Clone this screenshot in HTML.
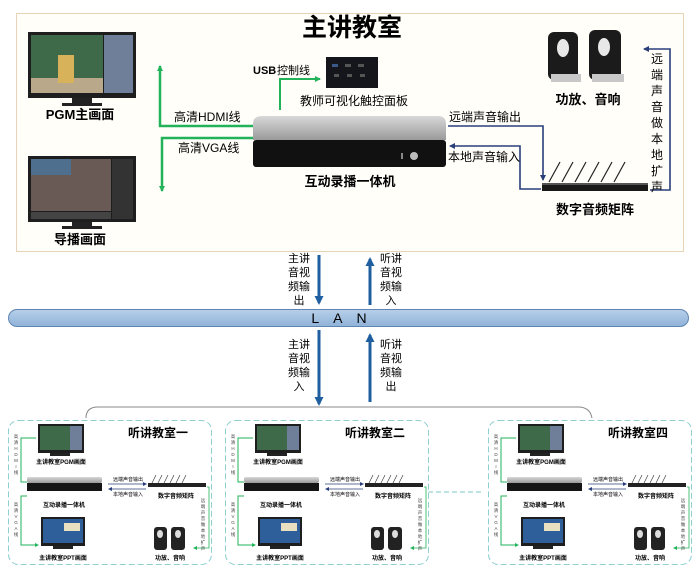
<!DOCTYPE html>
<html><head><meta charset="utf-8"><style>
html,body{margin:0;padding:0;background:#fff;}
svg{display:block;font-family:"Liberation Sans","Noto Sans CJK SC",sans-serif;}
.b{font-weight:bold;}
</style></head><body>
<svg width="700" height="574" viewBox="0 0 700 574" xmlns="http://www.w3.org/2000/svg">
<defs>
<marker id="ag" markerWidth="6" markerHeight="6" refX="5" refY="3" orient="auto" markerUnits="userSpaceOnUse"><path d="M0,0L6,3L0,6z" fill="#22b35a"/></marker>
<marker id="an" markerWidth="6" markerHeight="6" refX="5" refY="3" orient="auto" markerUnits="userSpaceOnUse"><path d="M0,0L6,3L0,6z" fill="#2a3f7a"/></marker>
<marker id="ab" markerWidth="9" markerHeight="9" refX="7" refY="4.5" orient="auto" markerUnits="userSpaceOnUse"><path d="M0,0L9,4.5L0,9z" fill="#1f5fa0"/></marker>
<marker id="as" markerWidth="4" markerHeight="4" refX="3" refY="2" orient="auto" markerUnits="userSpaceOnUse"><path d="M0,0L4,2L0,4z" fill="#22b35a"/></marker>
<marker id="asn" markerWidth="4" markerHeight="4" refX="3" refY="2" orient="auto" markerUnits="userSpaceOnUse"><path d="M0,0L4,2L0,4z" fill="#2a3f7a"/></marker>
<linearGradient id="sil" x1="0" y1="0" x2="0" y2="1"><stop offset="0" stop-color="#d8d8d8"/><stop offset="1" stop-color="#9a9a9a"/></linearGradient>
<linearGradient id="lan" x1="0" y1="0" x2="0" y2="1"><stop offset="0" stop-color="#b7d0ea"/><stop offset="1" stop-color="#8fb2d8"/></linearGradient>
<g id="vl1" font-size="4.5" fill="#333" text-anchor="middle">
</g>
</defs>

<!-- top box -->
<rect x="16.5" y="13.5" width="667" height="238" fill="#fffef9" stroke="#e6d3b8"/>
<text x="352" y="36" font-size="25" class="b" text-anchor="middle">主讲教室</text>

<!-- PGM monitor -->
<rect x="28" y="32" width="108" height="66" fill="#1e1e1e"/>
<rect x="31" y="35" width="72" height="58" fill="#3f6a4a"/>
<rect x="31" y="78" width="72" height="15" fill="#b9a88a"/>
<rect x="58" y="55" width="16" height="28" fill="#d8b25a"/>
<rect x="104" y="35" width="29" height="58" fill="#6f7f9a"/>
<rect x="72" y="98" width="20" height="5" fill="#222"/>
<rect x="62" y="103" width="40" height="3" fill="#222"/>
<text x="80" y="119" font-size="13" class="b" text-anchor="middle">PGM主画面</text>

<!-- director monitor -->
<rect x="28" y="156" width="108" height="66" fill="#1e1e1e"/>
<rect x="31" y="159" width="80" height="52" fill="#6a5a55"/>
<rect x="31" y="159" width="40" height="16" fill="#4e6f8e"/>
<rect x="112" y="159" width="21" height="60" fill="#333"/>
<rect x="31" y="212" width="80" height="7" fill="#444"/>
<rect x="72" y="222" width="20" height="4" fill="#222"/>
<rect x="62" y="226" width="40" height="3" fill="#222"/>
<text x="80" y="244" font-size="13" class="b" text-anchor="middle">导播画面</text>

<!-- green lines -->
<path d="M253,126 H160 V66" fill="none" stroke="#22b35a" stroke-width="2.5" marker-end="url(#ag)"/>
<path d="M253,138 H162 V191" fill="none" stroke="#22b35a" stroke-width="2.5" marker-end="url(#ag)"/>
<text x="174" y="121" font-size="12">高清HDMI线</text>
<text x="178" y="152" font-size="12">高清VGA线</text>
<path d="M280,110 V79 H320" fill="none" stroke="#22b35a" stroke-width="2" marker-end="url(#ag)"/>
<text x="253" y="74" font-size="11" class="b">USB</text><text x="277" y="74" font-size="11">控制线</text>

<!-- touch panel -->
<rect x="326" y="57" width="52" height="31" fill="#14161c"/>
<rect x="332" y="64" width="6" height="3" fill="#3a5a8a"/><rect x="345" y="64" width="6" height="3" fill="#555"/><rect x="358" y="64" width="6" height="3" fill="#555"/>
<rect x="334" y="74" width="5" height="3" fill="#555"/><rect x="347" y="74" width="5" height="3" fill="#555"/><rect x="360" y="74" width="5" height="3" fill="#555"/>
<text x="354" y="105" font-size="12" text-anchor="middle">教师可视化触控面板</text>

<!-- main unit -->
<path d="M262,116 H438 Q446,116 446,124 V140 H253 V124 Q253,116 262,116Z" fill="url(#sil)"/>
<rect x="253" y="140" width="193" height="27" rx="3" fill="#111"/>
<circle cx="414" cy="156" r="4" fill="#bbb"/><rect x="401" y="153" width="2" height="6" fill="#888"/>
<text x="350" y="186" font-size="13" class="b" text-anchor="middle">互动录播一体机</text>

<!-- blue lines right -->
<path d="M448,126 H543 V180" fill="none" stroke="#2a3f7a" stroke-width="1.6" marker-end="url(#an)"/>
<path d="M541,189 H520 V146 H450" fill="none" stroke="#2a3f7a" stroke-width="1.6" marker-end="url(#an)"/>
<text x="449" y="121" font-size="12">远端声音输出</text>
<text x="448" y="161" font-size="12">本地声音输入</text>

<!-- matrix -->
<g stroke="#222" stroke-width="1.2">
<line x1="549" y1="182" x2="560" y2="162"/><line x1="562" y1="182" x2="573" y2="162"/><line x1="575" y1="182" x2="586" y2="162"/>
<line x1="588" y1="182" x2="599" y2="162"/><line x1="601" y1="182" x2="612" y2="162"/><line x1="614" y1="182" x2="625" y2="162"/>
</g>
<rect x="542" y="183" width="106" height="8" fill="#1a1a1a"/>
<rect x="542" y="183" width="106" height="2" fill="#555"/>
<text x="595" y="214" font-size="13" class="b" text-anchor="middle">数字音频矩阵</text>

<!-- speakers -->
<rect x="548" y="32" width="30" height="48" rx="6" fill="#1b1b1b"/>
<ellipse cx="563" cy="48" rx="6" ry="9" fill="#e8e8e8"/>
<rect x="551" y="74" width="30" height="8" fill="#c8c8c8"/>
<rect x="589" y="30" width="32" height="50" rx="6" fill="#1b1b1b"/>
<ellipse cx="604" cy="47" rx="6" ry="9" fill="#e8e8e8"/>
<rect x="592" y="74" width="32" height="8" fill="#c8c8c8"/>
<text x="588" y="104" font-size="13" class="b" text-anchor="middle">功放、音响</text>

<path d="M650,190 H670 V49 H644" fill="none" stroke="#2a3f7a" stroke-width="1.6" marker-end="url(#an)"/>
<text font-size="12" text-anchor="middle">
<tspan x="657" y="63">远</tspan><tspan x="657" y="79">端</tspan><tspan x="657" y="95">声</tspan><tspan x="657" y="111">音</tspan><tspan x="657" y="127">做</tspan><tspan x="657" y="143">本</tspan><tspan x="657" y="159">地</tspan><tspan x="657" y="175">扩</tspan><tspan x="657" y="191">声</tspan>
</text>

<!-- LAN -->
<rect x="8.5" y="309.5" width="680" height="17" rx="8.5" fill="url(#lan)" stroke="#5f85b0"/>
<text x="346" y="323" font-size="14" text-anchor="middle" letter-spacing="14">LAN</text>

<g stroke="#1f5fa0" stroke-width="3" fill="none">
<line x1="319" y1="255" x2="319" y2="303" marker-end="url(#ab)"/>
<line x1="370" y1="305" x2="370" y2="259" marker-end="url(#ab)"/>
<line x1="319" y1="330" x2="319" y2="404" marker-end="url(#ab)"/>
<line x1="370" y1="402" x2="370" y2="335" marker-end="url(#ab)"/>
</g>
<g font-size="11" text-anchor="middle">
<text x="299" y="262">主讲</text><text x="299" y="276">音视</text><text x="299" y="290">频输</text><text x="299" y="304">出</text>
<text x="391" y="262">听讲</text><text x="391" y="276">音视</text><text x="391" y="290">频输</text><text x="391" y="304">入</text>
<text x="299" y="348">主讲</text><text x="299" y="362">音视</text><text x="299" y="376">频输</text><text x="299" y="390">入</text>
<text x="391" y="348">听讲</text><text x="391" y="362">音视</text><text x="391" y="376">频输</text><text x="391" y="390">出</text>
</g>

<!-- bracket -->
<path d="M86,418 Q86,407 98,407 H578 Q590,407 592,418" fill="none" stroke="#888" stroke-width="1"/>
<line x1="428" y1="492" x2="484" y2="492" stroke="#7fc7c7" stroke-dasharray="5,3"/>

<!-- classrooms -->
<g transform="translate(8,420)">
<rect x="0.5" y="0.5" width="203" height="144" rx="10" fill="#fff" stroke="#8ecfcf" stroke-dasharray="6,3"/>
<text x="150" y="17" font-size="12" class="b" text-anchor="middle">听讲教室一</text>
<rect x="30" y="4" width="46" height="29" fill="#1e1e1e"/><rect x="32" y="6" width="30" height="24" fill="#3f6a4a"/><rect x="62" y="6" width="12" height="24" fill="#6f7f9a"/><rect x="42" y="33" width="20" height="3" fill="#222"/>
<text x="53" y="44" font-size="6" class="b" text-anchor="middle">主讲教室PGM画面</text>
<path d="M28,18 H13 V62 H19" fill="none" stroke="#22b35a" stroke-width="1"/>
<path d="M19,76 H13 V125 H30" fill="none" stroke="#22b35a" stroke-width="1" marker-end="url(#as)"/>
<text font-size="4.5" fill="#444" text-anchor="middle"><tspan x="8" y="18">高</tspan><tspan x="8" y="24">清</tspan><tspan x="8" y="30">H</tspan><tspan x="8" y="36">D</tspan><tspan x="8" y="42">M</tspan><tspan x="8" y="48">I</tspan><tspan x="8" y="54">线</tspan><tspan x="8" y="86">高</tspan><tspan x="8" y="92">清</tspan><tspan x="8" y="98">V</tspan><tspan x="8" y="104">G</tspan><tspan x="8" y="110">A</tspan><tspan x="8" y="116">线</tspan></text>
<rect x="19" y="57" width="75" height="6" rx="2" fill="url(#sil)"/><rect x="19" y="63" width="75" height="8" fill="#151515"/>
<text x="56" y="87" font-size="6" class="b" text-anchor="middle">互动录播一体机</text>
<path d="M100,64 H138" stroke="#2a3f7a" stroke-width="0.8" marker-end="url(#asn)"/>
<path d="M138,69 H101" stroke="#2a3f7a" stroke-width="0.8" marker-end="url(#asn)"/>
<text x="120" y="61" font-size="5" text-anchor="middle">远端声音输出</text>
<text x="120" y="76" font-size="5" text-anchor="middle">本地声音输入</text>
<g stroke="#333" stroke-width="0.6"><line x1="144" y1="63" x2="148" y2="55"/><line x1="150" y1="63" x2="154" y2="55"/><line x1="156" y1="63" x2="160" y2="55"/><line x1="162" y1="63" x2="166" y2="55"/><line x1="168" y1="63" x2="172" y2="55"/><line x1="174" y1="63" x2="178" y2="55"/></g>
<rect x="140" y="63" width="58" height="4" fill="#222"/>
<text x="168" y="78" font-size="6" class="b" text-anchor="middle">数字音频矩阵</text>
<path d="M199,67 H201 V128 H186" fill="none" stroke="#22b35a" stroke-width="0.8" marker-end="url(#as)"/>
<text font-size="4.5" fill="#444" text-anchor="middle"><tspan x="195" y="82">远</tspan><tspan x="195" y="88">端</tspan><tspan x="195" y="94">声</tspan><tspan x="195" y="100">音</tspan><tspan x="195" y="106">做</tspan><tspan x="195" y="112">本</tspan><tspan x="195" y="118">地</tspan><tspan x="195" y="124">扩</tspan><tspan x="195" y="130">声</tspan></text>
<rect x="146" y="107" width="13" height="23" rx="3" fill="#222"/><rect x="163" y="107" width="14" height="23" rx="3" fill="#222"/><ellipse cx="152" cy="114" rx="3" ry="4" fill="#ddd"/><ellipse cx="170" cy="114" rx="3" ry="4" fill="#ddd"/>
<text x="162" y="140" font-size="6" class="b" text-anchor="middle">功放、音响</text>
<rect x="33" y="97" width="44" height="29" fill="#1e1e1e"/><rect x="35" y="99" width="40" height="24" fill="#2e5f9a"/><rect x="56" y="103" width="16" height="8" fill="#e8e0c0"/><rect x="45" y="126" width="20" height="3" fill="#222"/>
<text x="55" y="140" font-size="6" class="b" text-anchor="middle">主讲教室PPT画面</text>
</g>

<g transform="translate(225,420)">
<rect x="0.5" y="0.5" width="203" height="144" rx="10" fill="#fff" stroke="#8ecfcf" stroke-dasharray="6,3"/>
<text x="150" y="17" font-size="12" class="b" text-anchor="middle">听讲教室二</text>
<rect x="30" y="4" width="46" height="29" fill="#1e1e1e"/><rect x="32" y="6" width="30" height="24" fill="#3f6a4a"/><rect x="62" y="6" width="12" height="24" fill="#6f7f9a"/><rect x="42" y="33" width="20" height="3" fill="#222"/>
<text x="53" y="44" font-size="6" class="b" text-anchor="middle">主讲教室PGM画面</text>
<path d="M28,18 H13 V62 H19" fill="none" stroke="#22b35a" stroke-width="1"/>
<path d="M19,76 H13 V125 H30" fill="none" stroke="#22b35a" stroke-width="1" marker-end="url(#as)"/>
<text font-size="4.5" fill="#444" text-anchor="middle"><tspan x="8" y="18">高</tspan><tspan x="8" y="24">清</tspan><tspan x="8" y="30">H</tspan><tspan x="8" y="36">D</tspan><tspan x="8" y="42">M</tspan><tspan x="8" y="48">I</tspan><tspan x="8" y="54">线</tspan><tspan x="8" y="86">高</tspan><tspan x="8" y="92">清</tspan><tspan x="8" y="98">V</tspan><tspan x="8" y="104">G</tspan><tspan x="8" y="110">A</tspan><tspan x="8" y="116">线</tspan></text>
<rect x="19" y="57" width="75" height="6" rx="2" fill="url(#sil)"/><rect x="19" y="63" width="75" height="8" fill="#151515"/>
<text x="56" y="87" font-size="6" class="b" text-anchor="middle">互动录播一体机</text>
<path d="M100,64 H138" stroke="#2a3f7a" stroke-width="0.8" marker-end="url(#asn)"/>
<path d="M138,69 H101" stroke="#2a3f7a" stroke-width="0.8" marker-end="url(#asn)"/>
<text x="120" y="61" font-size="5" text-anchor="middle">远端声音输出</text>
<text x="120" y="76" font-size="5" text-anchor="middle">本地声音输入</text>
<g stroke="#333" stroke-width="0.6"><line x1="144" y1="63" x2="148" y2="55"/><line x1="150" y1="63" x2="154" y2="55"/><line x1="156" y1="63" x2="160" y2="55"/><line x1="162" y1="63" x2="166" y2="55"/><line x1="168" y1="63" x2="172" y2="55"/><line x1="174" y1="63" x2="178" y2="55"/></g>
<rect x="140" y="63" width="58" height="4" fill="#222"/>
<text x="168" y="78" font-size="6" class="b" text-anchor="middle">数字音频矩阵</text>
<path d="M199,67 H201 V128 H186" fill="none" stroke="#22b35a" stroke-width="0.8" marker-end="url(#as)"/>
<text font-size="4.5" fill="#444" text-anchor="middle"><tspan x="195" y="82">远</tspan><tspan x="195" y="88">端</tspan><tspan x="195" y="94">声</tspan><tspan x="195" y="100">音</tspan><tspan x="195" y="106">做</tspan><tspan x="195" y="112">本</tspan><tspan x="195" y="118">地</tspan><tspan x="195" y="124">扩</tspan><tspan x="195" y="130">声</tspan></text>
<rect x="146" y="107" width="13" height="23" rx="3" fill="#222"/><rect x="163" y="107" width="14" height="23" rx="3" fill="#222"/><ellipse cx="152" cy="114" rx="3" ry="4" fill="#ddd"/><ellipse cx="170" cy="114" rx="3" ry="4" fill="#ddd"/>
<text x="162" y="140" font-size="6" class="b" text-anchor="middle">功放、音响</text>
<rect x="33" y="97" width="44" height="29" fill="#1e1e1e"/><rect x="35" y="99" width="40" height="24" fill="#2e5f9a"/><rect x="56" y="103" width="16" height="8" fill="#e8e0c0"/><rect x="45" y="126" width="20" height="3" fill="#222"/>
<text x="55" y="140" font-size="6" class="b" text-anchor="middle">主讲教室PPT画面</text>
</g>

<g transform="translate(488,420)">
<rect x="0.5" y="0.5" width="203" height="144" rx="10" fill="#fff" stroke="#8ecfcf" stroke-dasharray="6,3"/>
<text x="150" y="17" font-size="12" class="b" text-anchor="middle">听讲教室四</text>
<rect x="30" y="4" width="46" height="29" fill="#1e1e1e"/><rect x="32" y="6" width="30" height="24" fill="#3f6a4a"/><rect x="62" y="6" width="12" height="24" fill="#6f7f9a"/><rect x="42" y="33" width="20" height="3" fill="#222"/>
<text x="53" y="44" font-size="6" class="b" text-anchor="middle">主讲教室PGM画面</text>
<path d="M28,18 H13 V62 H19" fill="none" stroke="#22b35a" stroke-width="1"/>
<path d="M19,76 H13 V125 H30" fill="none" stroke="#22b35a" stroke-width="1" marker-end="url(#as)"/>
<text font-size="4.5" fill="#444" text-anchor="middle"><tspan x="8" y="18">高</tspan><tspan x="8" y="24">清</tspan><tspan x="8" y="30">H</tspan><tspan x="8" y="36">D</tspan><tspan x="8" y="42">M</tspan><tspan x="8" y="48">I</tspan><tspan x="8" y="54">线</tspan><tspan x="8" y="86">高</tspan><tspan x="8" y="92">清</tspan><tspan x="8" y="98">V</tspan><tspan x="8" y="104">G</tspan><tspan x="8" y="110">A</tspan><tspan x="8" y="116">线</tspan></text>
<rect x="19" y="57" width="75" height="6" rx="2" fill="url(#sil)"/><rect x="19" y="63" width="75" height="8" fill="#151515"/>
<text x="56" y="87" font-size="6" class="b" text-anchor="middle">互动录播一体机</text>
<path d="M100,64 H138" stroke="#2a3f7a" stroke-width="0.8" marker-end="url(#asn)"/>
<path d="M138,69 H101" stroke="#2a3f7a" stroke-width="0.8" marker-end="url(#asn)"/>
<text x="120" y="61" font-size="5" text-anchor="middle">远端声音输出</text>
<text x="120" y="76" font-size="5" text-anchor="middle">本地声音输入</text>
<g stroke="#333" stroke-width="0.6"><line x1="144" y1="63" x2="148" y2="55"/><line x1="150" y1="63" x2="154" y2="55"/><line x1="156" y1="63" x2="160" y2="55"/><line x1="162" y1="63" x2="166" y2="55"/><line x1="168" y1="63" x2="172" y2="55"/><line x1="174" y1="63" x2="178" y2="55"/></g>
<rect x="140" y="63" width="58" height="4" fill="#222"/>
<text x="168" y="78" font-size="6" class="b" text-anchor="middle">数字音频矩阵</text>
<path d="M199,67 H201 V128 H186" fill="none" stroke="#22b35a" stroke-width="0.8" marker-end="url(#as)"/>
<text font-size="4.5" fill="#444" text-anchor="middle"><tspan x="195" y="82">远</tspan><tspan x="195" y="88">端</tspan><tspan x="195" y="94">声</tspan><tspan x="195" y="100">音</tspan><tspan x="195" y="106">做</tspan><tspan x="195" y="112">本</tspan><tspan x="195" y="118">地</tspan><tspan x="195" y="124">扩</tspan><tspan x="195" y="130">声</tspan></text>
<rect x="146" y="107" width="13" height="23" rx="3" fill="#222"/><rect x="163" y="107" width="14" height="23" rx="3" fill="#222"/><ellipse cx="152" cy="114" rx="3" ry="4" fill="#ddd"/><ellipse cx="170" cy="114" rx="3" ry="4" fill="#ddd"/>
<text x="162" y="140" font-size="6" class="b" text-anchor="middle">功放、音响</text>
<rect x="33" y="97" width="44" height="29" fill="#1e1e1e"/><rect x="35" y="99" width="40" height="24" fill="#2e5f9a"/><rect x="56" y="103" width="16" height="8" fill="#e8e0c0"/><rect x="45" y="126" width="20" height="3" fill="#222"/>
<text x="55" y="140" font-size="6" class="b" text-anchor="middle">主讲教室PPT画面</text>
</g>
</svg>
</body></html>
